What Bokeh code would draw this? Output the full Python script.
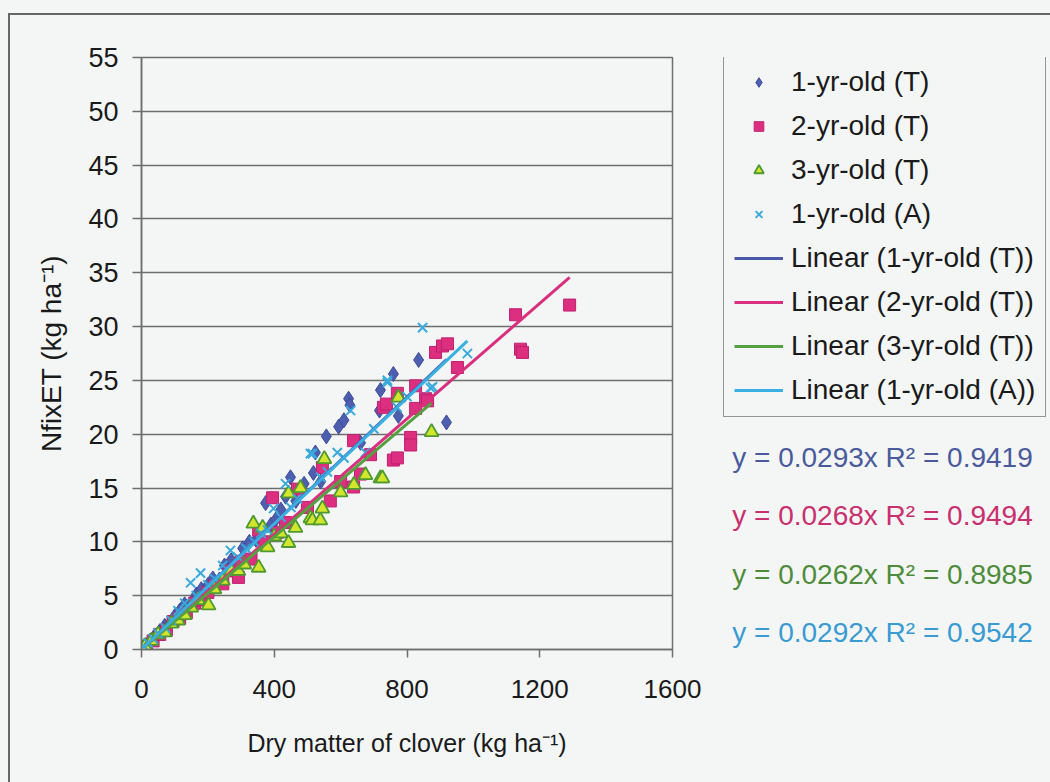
from bokeh.plotting import figure
from bokeh.models import Range1d, Legend, LegendItem, Label
from bokeh.layouts import row
from bokeh.embed import file_html
from bokeh.resources import INLINE

# ---------------- data ----------------
series_names = ["1-yr-old (T)", "2-yr-old (T)", "3-yr-old (T)", "1-yr-old (A)"]

x1 = [12, 25, 40, 55, 70, 85, 100, 115, 130, 150, 165, 180, 200, 215, 235, 250, 270, 290,
      305, 325, 345, 360, 374, 390, 405, 420, 434, 449, 465, 490, 518, 524, 540, 557, 594,
      610, 624, 628, 660, 717, 720, 759, 774, 835, 919]
y1 = [0.4, 0.8, 1.3, 1.7, 2.2, 2.4, 3.1, 3.6, 4.2, 4.3, 5.1, 5.6, 6.0, 6.6, 6.5, 7.8, 8.3, 8.0,
      9.4, 10.0, 10.2, 11.0, 13.6, 11.6, 12.1, 13.0, 14.2, 16.0, 13.8, 15.4, 16.4, 18.3, 15.6, 19.8, 20.7,
      21.3, 23.3, 22.7, 19.2, 22.2, 24.1, 25.6, 21.7, 26.9, 21.1]

x2 = [15, 35, 55, 75, 95, 115, 135, 160, 180, 200, 220, 245, 265, 292, 300, 330, 353, 370, 395,
      410, 434, 470, 500, 545, 569, 600, 639, 639, 660, 690, 729, 738, 759, 771, 771, 811, 811,
      826, 826, 856, 862, 886, 907, 922, 952, 1127, 1142, 1148, 1290]
y2 = [0.3, 0.8, 1.4, 1.8, 2.6, 2.9, 3.4, 4.3, 4.6, 5.3, 5.9, 6.1, 7.3, 6.7, 8.2, 8.4, 11.1, 10.0, 14.1,
      10.9, 11.8, 14.9, 13.2, 16.9, 13.8, 15.6, 19.4, 15.1, 16.3, 18.1, 22.5, 22.8, 17.6, 17.8, 23.8, 19.7, 19.0,
      24.5, 22.4, 23.3, 23.1, 27.6, 28.2, 28.4, 26.2, 31.1, 27.9, 27.6, 32.0]

x3 = [10, 30, 50, 70, 90, 110, 130, 150, 170, 202, 220, 245, 270, 292, 310, 337, 353, 365, 380,
      400, 420, 443, 443, 464, 479, 509, 515, 539, 545, 551, 600, 640, 675, 720, 726, 774, 874]
y3 = [0.3, 0.8, 1.4, 1.6, 2.4, 2.7, 3.2, 3.9, 4.6, 4.1, 5.6, 6.4, 7.3, 7.3, 7.9, 11.7, 7.6, 11.3, 9.5,
      10.5, 10.8, 9.9, 14.5, 11.3, 15.0, 12.2, 12.0, 12.0, 13.1, 17.7, 14.6, 15.3, 16.2, 15.9, 15.9, 23.4, 20.2]

x4 = [8, 20, 35, 50, 72, 90, 110, 130, 148, 165, 178, 200, 220, 245, 268, 290, 315, 340, 360, 380,
      398, 420, 434, 450, 470, 509, 515, 540, 560, 590, 610, 630, 675, 700, 741, 741, 770, 800,
      847, 871, 877, 982]
y4 = [0.3, 0.6, 1.0, 1.5, 2.0, 2.7, 3.6, 4.3, 6.2, 5.0, 7.1, 6.0, 6.6, 7.8, 9.2, 8.6, 9.4, 10.0, 10.8, 11.1,
      13.1, 12.3, 15.4, 13.2, 14.0, 18.2, 18.2, 16.0, 16.5, 18.3, 17.8, 22.2, 18.3, 20.5, 24.8, 25.0, 22.5, 23.5,
      29.9, 24.3, 24.4, 27.5]

slopes = [0.0293, 0.0268, 0.0262, 0.0292]
r_squared = [0.9419, 0.9494, 0.8985, 0.9542]

x_ticks = [0, 400, 800, 1200, 1600]
y_ticks = [0, 5, 10, 15, 20, 25, 30, 35, 40, 45, 50, 55]

# ---------------- style ----------------
FONT = "Liberation Sans"
BG = "#f4f6f6"
GRID = "#6e6e6e"
TXT = "#1a1a1a"
marker_kw = [
    dict(marker="diamond", size=15, fill_color="#4f5fb0", line_color="#3d4c98", line_width=1),
    dict(marker="square", size=12, fill_color="#dc2f80", line_color="#c02070", line_width=1),
    dict(marker="triangle", size=14, fill_color="#d2e62e", line_color="#4e9a30", line_width=1.8),
    dict(marker="x", size=13, line_color="#3aa9dc", line_width=2),
]
line_colors = ["#4a5aa8", "#d8307e", "#55a040", "#3ab0e2"]
eq_colors = ["#4a5a9c", "#c8306e", "#4e8c3c", "#3a9ad2"]

xs = [x1, x2, x3, x4]
ys = [y1, y2, y3, y4]

# ---------------- main chart ----------------
p = figure(width=702, height=767, output_backend="svg", toolbar_location=None,
           x_range=Range1d(0, 1600), y_range=Range1d(0, 55),
           min_border_left=131, min_border_right=40, min_border_top=42, min_border_bottom=133)
p.background_fill_color = BG
p.border_fill_color = BG
p.outline_line_color = GRID
p.outline_line_width = 1.5

p.xaxis.ticker = x_ticks
p.yaxis.ticker = y_ticks
p.xgrid.visible = False
p.ygrid.grid_line_color = GRID
p.ygrid.grid_line_width = 1.5

for ax in (p.xaxis[0], p.yaxis[0]):
    ax.axis_line_color = GRID
    ax.axis_line_width = 1.5
    ax.major_tick_line_color = GRID
    ax.major_tick_line_width = 1.5
    ax.minor_tick_line_color = None
    ax.major_tick_in = 0
    ax.major_label_text_font = FONT
    ax.major_label_text_color = TXT
    ax.axis_label_text_font = FONT
    ax.axis_label_text_font_style = "normal"
    ax.axis_label_text_color = TXT

p.xaxis.major_tick_out = 8
p.xaxis.major_label_text_font_size = "26px"
p.xaxis.major_label_standoff = 22
p.xaxis.axis_label = "Dry matter of clover (kg ha\u207b\u00b9)"
p.xaxis.axis_label_text_font_size = "25px"
p.xaxis.axis_label_standoff = 28

p.yaxis.major_tick_out = 9
p.yaxis.major_label_text_font_size = "27px"
p.yaxis.major_label_standoff = 14
p.yaxis.axis_label = "NfixET (kg ha\u207b\u00b9)"
p.yaxis.axis_label_text_font_size = "28px"
p.yaxis.axis_label_standoff = 18

for i in range(4):
    p.scatter(xs[i], ys[i], **marker_kw[i])
for i in range(4):
    lx = [min(xs[i]), max(xs[i])]
    ly = [slopes[i] * v for v in lx]
    p.line(lx, ly, line_color=line_colors[i], line_width=3)

# ---------------- side panel: legend + equations ----------------
# Its plot area is aligned with the main chart's (same top/bottom edges).
# The series are drawn here again only to key the legend; the x range is
# placed left of all data so these copies fall outside the visible area.
W2, H2 = 338, 767
q = figure(width=W2, height=H2, output_backend="svg", toolbar_location=None,
           x_range=Range1d(-W2 - 200, -200), y_range=Range1d(0, 55),
           x_axis_location=None, y_axis_location=None,
           min_border_left=0, min_border_right=0, min_border_top=42, min_border_bottom=133)
q.background_fill_color = BG
q.border_fill_color = BG
q.outline_line_color = None
q.grid.visible = False

key_pts = [q.scatter(xs[i], ys[i], **marker_kw[i]) for i in range(4)]
key_lines = []
for i in range(4):
    lx = [min(xs[i]), max(xs[i])]
    key_lines.append(q.line(lx, [slopes[i] * v for v in lx],
                            line_color=line_colors[i], line_width=3))

items = [LegendItem(label=series_names[i], renderers=[key_pts[i]]) for i in range(4)]
items += [LegendItem(label="Linear (%s)" % series_names[i], renderers=[key_lines[i]]) for i in range(4)]
legend = Legend(items=items, location=(11, 232),
                label_text_font=FONT, label_text_font_size="28px", label_text_color=TXT,
                glyph_width=49, glyph_height=24, label_height=32, spacing=12,
                padding=10, margin=0, label_standoff=8,
                border_line_color="#333333", border_line_width=1.2,
                background_fill_color=BG, background_fill_alpha=1.0)
q.add_layout(legend, "center")

for i in range(4):
    txt = "y = %.4fx R\u00b2 = %.4f" % (slopes[i], r_squared[i])
    q.add_layout(Label(x=170, y=192 - i * 58.3, x_units="screen", y_units="screen",
                       text=txt, text_align="center", text_baseline="alphabetic",
                       text_font=FONT, text_font_size="28px", text_color=eq_colors[i]))

layout = row(p, q, margin=(13, 0, 0, 8),
             styles={"border-top": "2px solid #666666", "border-left": "2px solid #666666",
                     "background-color": BG, "box-shadow": "0 0 0 13px " + BG})

open("out.html", "w").write(file_html(layout, INLINE))
